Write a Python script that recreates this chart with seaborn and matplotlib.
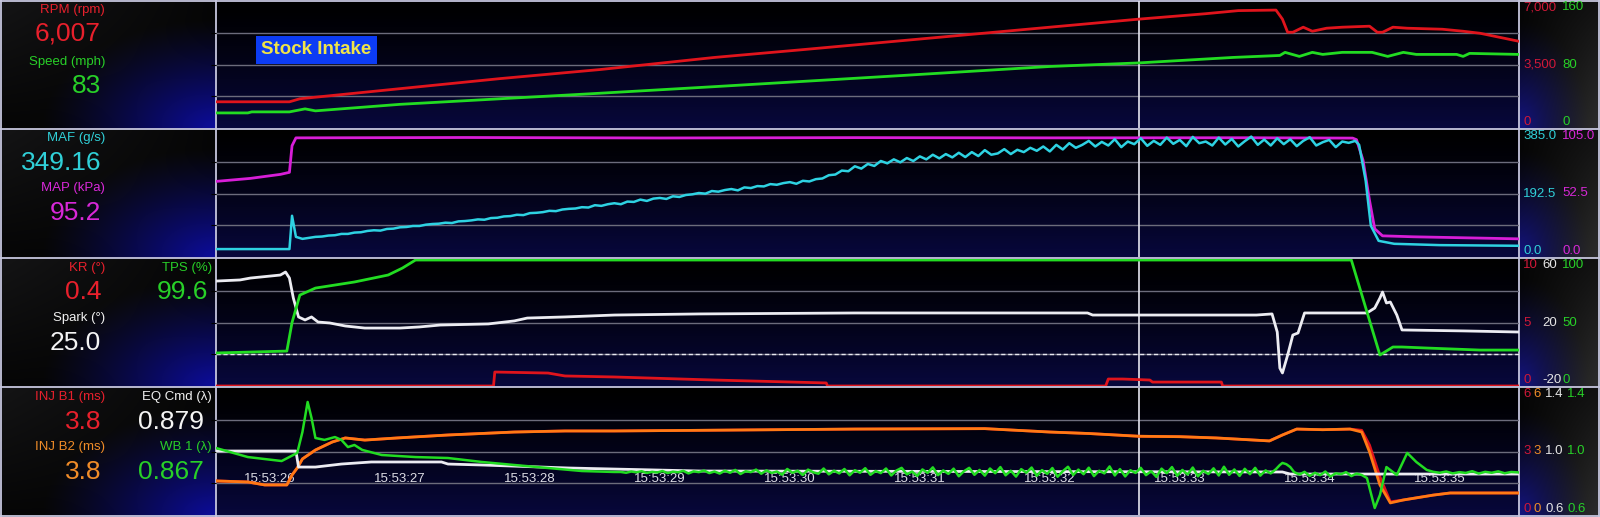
import numpy as np
import matplotlib
matplotlib.use("Agg")
import matplotlib.pyplot as plt
import seaborn as sns

# ---- time base (seconds after 15:53:00) ----
X_MIN, X_MAX = 25.585, 35.61
CURSOR_T = 32.685
tick_secs = [26, 27, 28, 29, 30, 31, 32, 33, 34, 35]
tick_labels = ["15:53:%d" % s for s in tick_secs]

# ---- panel 1: RPM / Speed ----
rpm_t = [25.585, 26.15, 26.23, 27.0, 27.77, 28.54, 29.42, 30.08, 30.85, 32.0, 32.685, 33.2, 33.45,
         33.74, 33.79, 33.83, 33.87, 33.95, 34.02, 34.13, 34.25, 34.46, 34.52, 34.56, 34.64, 34.75,
         35.02, 35.18, 35.31, 35.61]
rpm = [1444, 1444, 1611, 2167, 2722, 3222, 3889, 4306, 4806, 5556, 6000, 6300, 6470,
       6500, 6000, 5278, 5278, 5556, 5333, 5500, 5556, 5611, 5278, 5278, 5556, 5500,
       5444, 5333, 5222, 4778]

speed_t = [25.585, 25.83, 25.86, 26.15, 26.27, 26.35, 27.0, 27.77, 28.54, 29.42, 30.85, 32.0, 32.685,
           33.41, 33.77, 33.81, 33.92, 34.02, 34.10, 34.25, 34.48, 34.60, 34.72, 34.82, 35.13, 35.18,
           35.23, 35.61]
speed = [19.0, 19.0, 20.3, 20.3, 24.1, 21.6, 29.8, 36.8, 43.8, 52.1, 66.0, 77.5, 82.0,
         88.9, 91.4, 95.3, 90.2, 95.3, 92.7, 95.3, 95.3, 90.2, 95.3, 92.7, 92.7, 90.2,
         94.0, 92.7]

# ---- panel 2: MAF / MAP ----
maf_head_t = [25.585, 26.15, 26.17, 26.20, 26.25]
maf_head = [24, 24, 125, 61, 55]
MAF_NOISE_START, MAF_DT = 26.30, 0.05
maf_noise = [58, 61, 62, 65, 66, 70, 70, 74, 75, 79,
             81, 80, 85, 86, 90, 91, 94, 94, 98, 100,
             101, 104, 103, 108, 109, 111, 114, 113, 118, 119,
             123, 124, 128, 127, 133, 134, 136, 140, 139, 144,
             146, 147, 151, 150, 157, 155, 160, 163, 160, 168,
             167, 174, 170, 177, 179, 176, 184, 182, 188, 190,
             194, 192, 200, 198, 203, 206, 202, 211, 209, 215,
             214, 221, 219, 224, 227, 222, 231, 229, 236, 238,
             248, 250, 262, 260, 275, 268, 282, 276, 291, 284,
             296, 287, 300, 291, 305, 296, 310, 299, 312, 302,
             316, 303, 318, 306, 324, 310, 314, 327, 312, 325,
             318, 331, 322, 335, 320, 340, 326, 345, 331, 340,
             352, 335, 349, 338, 357, 333, 350, 342, 360, 337,
             352, 340, 362, 343, 355, 336, 364, 345, 350, 338,
             362, 341, 358, 335, 351, 365, 340, 356, 338, 360,
             342, 357, 336, 352, 363, 338, 348, 355, 333, 350,
             346, 352]
maf_tail_t = [34.38, 34.43, 34.47, 34.53, 34.65, 35.0, 35.61]
maf_tail = [340, 232, 95, 49, 40, 36, 34]

map_t = [25.585, 25.85, 26.08, 26.15, 26.17, 26.20, 27.5, 29.0, 30.5, 32.0, 33.5, 34.33, 34.36,
         34.41, 34.46, 34.50, 34.56, 34.80, 35.61]
map_kpa = [62.5, 65.0, 68.3, 70.0, 92.0, 98.5, 98.8, 98.4, 98.7, 98.5, 98.6, 98.3, 97.0,
           80.0, 46.7, 23.3, 17.5, 16.7, 15.0]

# ---- panel 3: KR / Spark / TPS ----
kr_t = [25.585, 27.72, 27.73, 28.14, 28.27, 28.65, 29.42, 30.28, 30.29, 32.43, 32.45, 32.56, 32.77,
        32.79, 33.32, 33.33, 35.61]
kr = [0, 0, 1.1, 1.02, 0.79, 0.71, 0.47, 0.24, 0, 0, 0.55, 0.55, 0.47,
      0.31, 0.31, 0, 0]

spark_t = [25.585, 25.77, 25.85, 26.08, 26.12, 26.15, 26.18, 26.22, 26.27, 26.32, 26.37, 26.46, 26.58,
           26.73, 27.0, 27.15, 27.31, 27.68, 27.88, 27.98, 28.27, 28.65, 29.31, 30.5, 32.29, 32.33,
           33.59, 33.71, 33.75, 33.77, 33.79, 33.83, 33.87, 33.91, 33.96, 34.44, 34.50, 34.54, 34.56,
           34.59, 34.62, 34.67, 34.71, 35.18, 35.61]
spark = [46.1, 46.8, 48.0, 49.9, 51.8, 48.0, 35.4, 23.5, 21.6, 23.5, 20.3, 19.7, 17.8,
         16.5, 16.5, 17.2, 18.4, 19.1, 21.0, 22.8, 23.5, 24.7, 25.4, 26.0, 26.0, 24.7,
         24.7, 25.4, 14.0, -8.7, -11.8, -0.5, 12.1, 13.4, 26.0, 26.0, 29.1, 35.4, 39.2,
         32.3, 32.9, 24.7, 15.3, 14.7, 14.0]

tps_t = [25.585, 26.13, 26.17, 26.23, 26.35, 26.65, 26.91, 27.02, 27.12, 34.32, 34.54, 34.64, 34.71,
         34.90, 35.31, 35.61]
tps = [26.0, 27.5, 50.0, 71.6, 77.1, 81.9, 87.4, 92.9, 99.2, 99.2, 24.4, 30.7, 30.7,
       29.9, 28.3, 28.3]

# ---- panel 4: injectors / lambda ----
inj_t = [25.585, 25.83, 25.96, 26.13, 26.17, 26.21, 26.25, 26.35, 26.48, 26.58, 26.73, 26.98, 27.37,
         27.88, 28.27, 28.65, 29.5, 30.5, 31.5, 32.0, 32.3, 32.685, 33.0, 33.28, 33.69, 33.79,
         33.90, 34.1, 34.31, 34.40, 34.46, 34.54, 34.62, 34.72, 34.95, 35.08, 35.61]
inj_b2 = [1.61, 1.56, 1.42, 1.42, 1.89, 2.22, 2.65, 3.07, 3.45, 3.64, 3.54, 3.64, 3.78,
          3.92, 3.97, 3.97, 4.01, 4.06, 4.08, 3.92, 3.85, 3.72, 3.70, 3.64, 3.50, 3.78,
          4.06, 4.03, 4.06, 3.92, 2.98, 1.42, 0.57, 0.71, 0.94, 1.04, 1.04]
inj_b1 = [1.61, 1.56, 1.42, 1.42, 1.89, 2.22, 2.65, 3.07, 3.45, 3.64, 3.54, 3.64, 3.78,
          3.92, 3.97, 3.97, 4.01, 4.06, 4.08, 3.92, 3.85, 3.72, 3.70, 3.64, 3.50, 3.78,
          4.06, 4.03, 4.06, 4.00, 3.30, 1.80, 0.62, 0.71, 0.94, 1.04, 1.04]

eq_t = [25.585, 26.20, 26.22, 26.35, 26.55, 26.78, 27.32, 27.37, 27.63, 28.30, 29.31, 33.79, 33.85, 35.61]
eq_cmd = [1.003, 1.003, 0.902, 0.902, 0.921, 0.934, 0.934, 0.921, 0.915, 0.896, 0.877, 0.871, 0.858, 0.858]

wb1_head_t = [25.585, 25.83, 26.09, 26.21, 26.25, 26.29, 26.32, 26.35, 26.42, 26.50, 26.55, 26.60,
              26.65, 26.71, 26.86, 27.12, 27.37, 27.63, 27.88, 28.14, 28.40, 28.65]
wb1_head = [1.022, 0.965, 0.940, 0.991, 1.123, 1.312, 1.211, 1.085, 1.073, 1.091, 1.073, 1.028,
            1.041, 1.010, 0.978, 0.965, 0.959, 0.934, 0.915, 0.896, 0.877, 0.871]
WB1_DT = 0.04
WB1_NOISE_START = 28.70
wb1_noise = [0.871, 0.866, 0.874, 0.869, 0.876, 0.865, 0.872, 0.868, 0.877, 0.864,
             0.873, 0.869, 0.878, 0.862, 0.875, 0.870, 0.880, 0.864, 0.874, 0.861,
             0.879, 0.866, 0.884, 0.858, 0.876, 0.870, 0.886, 0.860, 0.881, 0.865,
             0.874, 0.854, 0.890, 0.866, 0.879, 0.852, 0.886, 0.869, 0.860, 0.893,
             0.856, 0.879, 0.862, 0.890, 0.850, 0.882, 0.866, 0.895, 0.853, 0.877,
             0.864, 0.893, 0.849, 0.880, 0.897, 0.856, 0.874, 0.846, 0.887, 0.865,
             0.900, 0.851, 0.881, 0.859, 0.892, 0.844, 0.876, 0.897, 0.853, 0.884,
             0.848, 0.893, 0.863, 0.902, 0.850, 0.879, 0.842, 0.889, 0.866, 0.899,
             0.847, 0.883, 0.859, 0.896, 0.841, 0.876, 0.904, 0.852, 0.886, 0.857,
             0.898, 0.845, 0.879, 0.862, 0.906, 0.849, 0.889, 0.843, 0.882, 0.865,
             0.897, 0.851, 0.876, 0.840, 0.892, 0.863, 0.902, 0.847, 0.884, 0.855,
             0.899, 0.844, 0.879, 0.858, 0.894, 0.849, 0.904, 0.853, 0.887, 0.846,
             0.891, 0.857, 0.897, 0.848, 0.881, 0.862, 0.889]
wb1_bump_t = [33.77, 33.79, 33.82, 33.85, 33.88]
wb1_bump = [0.915, 0.928, 0.920, 0.902, 0.870]
WB1_NOISE2_START = 33.92
wb1_noise2 = [0.855, 0.872, 0.846, 0.866, 0.851, 0.874, 0.842, 0.863, 0.857, 0.870, 0.845, 0.861, 0.852]
wb1_tail_t = [34.44, 34.50, 34.54, 34.59, 34.67, 34.75, 34.82, 34.90, 34.95, 35.0, 35.05, 35.1, 35.15,
              35.2, 35.25, 35.3, 35.35, 35.4, 35.45, 35.5, 35.55, 35.61]
wb1_tail = [0.833, 0.644, 0.726, 0.902, 0.852, 0.991, 0.934, 0.884, 0.872, 0.866, 0.874, 0.862, 0.870,
            0.865, 0.876, 0.861, 0.872, 0.866, 0.875, 0.863, 0.871, 0.868]

# ---- colours ----
RED = "#e0141c"
GREEN = "#22dc22"
CYAN = "#2ed2e2"
MAGENTA = "#d81ed8"
WHITE = "#ececf2"
ORANGE = "#ff7a14"
LBL_RED = "#e8202c"
LBL_GREEN = "#28d028"
LBL_CYAN = "#30d0d8"
LBL_MAG = "#d828d8"
LBL_ORANGE = "#f08c28"

plt.rcParams["font.family"] = ["Liberation Sans", "DejaVu Sans"]

W, H = 1600, 517
PLOT_L, PLOT_R = 216, 1519
ROWS = [(1, 128), (130, 257), (259, 386), (388, 515)]
BOUNDS = [0, 128.5, 257.5, 386.5, 517]

fig = plt.figure(figsize=(16, 5.17), dpi=100, facecolor="black")

# ---- background (gradients / glows) ----
yy, xx = np.mgrid[0:H, 0:W].astype(float)
bg = np.zeros((H, W, 3))
for i in range(4):
    top, bot = BOUNDS[i], BOUNDS[i + 1]
    band = (yy >= top) & (yy < bot)
    v = np.clip((yy - top) / (bot - top), 0, 1)
    # plot area: black -> navy downward
    m = band & (xx >= PLOT_L) & (xx < PLOT_R)
    navy = np.array([0.03, 0.03, 0.24])
    bg[m] = (v[m] ** 1.3)[:, None] * navy
    # left label area: dark with blue glow at bottom-right
    m = band & (xx < PLOT_L)
    d = np.sqrt(((PLOT_L - xx) / 175.0) ** 2 + ((bot - yy) / 110.0) ** 2)
    g = np.clip(1 - d, 0, 1) ** 1.2
    base = 0.02 + 0.06 * (1 - xx / PLOT_L) * (1 - v)
    col = base[..., None] * np.array([1, 1, 1.05]) * (1 - g[..., None]) + g[..., None] * np.array([0.05, 0.05, 0.62])
    bg[m] = col[m]
    # right axis area: blue glow at bottom-left, grey to the right
    m = band & (xx >= PLOT_R)
    d = np.sqrt(((xx - PLOT_R) / 70.0) ** 2 + ((bot - yy) / 110.0) ** 2)
    g = np.clip(1 - d, 0, 1) ** 1.3
    s = (xx - PLOT_R) / (W - PLOT_R)
    base = 0.02 + 0.16 * s * (0.3 + 0.7 * v)
    col = base[..., None] * (1 - g[..., None]) + g[..., None] * np.array([0.08, 0.08, 0.52])
    bg[m] = col[m]

bg_ax = fig.add_axes([0, 0, 1, 1])
bg_ax.imshow(np.clip(bg, 0, 1), aspect="auto", extent=(0, W, H, 0), interpolation="bilinear")
bg_ax.set_xlim(0, W)
bg_ax.set_ylim(H, 0)
bg_ax.axis("off")
SEP = "#c6c6de"
for yb in [0.8, 128.5, 257.5, 386.5, 516.2]:
    bg_ax.axhline(yb, color=SEP, lw=1.3)
for xb in [0.8, PLOT_L, PLOT_R, 1599.2]:
    bg_ax.axvline(xb, color=SEP, lw=1.3)


def make_panel(row):
    top, bot = ROWS[row]
    ax = fig.add_axes([PLOT_L / W, 1 - bot / H, (PLOT_R - PLOT_L) / W, (bot - top) / H])
    ax.set_facecolor("none")
    ax.set_xlim(X_MIN, X_MAX)
    ax.set_ylim(0, 1)
    ax.set_yticks([0.25, 0.5, 0.75])
    ax.grid(axis="y", color="#6c6c7c", lw=1.0)
    ax.grid(axis="x", visible=False)
    ax.tick_params(left=False, bottom=False, labelleft=False, labelbottom=False)
    for sp in ax.spines.values():
        sp.set_visible(False)
    ax.axvline(CURSOR_T, color="#e6e6f0", lw=1.2, zorder=5)
    return ax


def add_series(ax, t, v, lo, hi, color, labels, pad_px, label_color, lw=2.0):
    tw = ax.twinx()
    sns.lineplot(x=t, y=v, ax=tw, color=color, linewidth=lw, estimator=None, sort=False)
    tw.set_xlim(X_MIN, X_MAX)
    tw.set_ylim(lo, hi)
    tw.set_yticks([lo, (lo + hi) / 2, hi])
    tw.set_yticklabels(labels)
    tw.tick_params(axis="y", length=0, pad=pad_px * 0.72, labelsize=9.5, labelcolor=label_color)
    for lab, va in zip(tw.get_yticklabels(), ["bottom", "center", "top"]):
        lab.set_va(va)
    for sp in tw.spines.values():
        sp.set_visible(False)
    tw.set_ylabel("")
    tw.grid(False)
    return tw


# panel 1
ax1 = make_panel(0)
add_series(ax1, speed_t, speed, 0, 160, GREEN, ["0", "80", "160"], 43, LBL_GREEN)
tw1 = add_series(ax1, rpm_t, rpm, 0, 7000, RED, ["0", "3,500", "7,000"], 4, "#d01838")
tw1.text(0.0771, 0.615, "Stock Intake", transform=ax1.transAxes, ha="center", va="center",
         fontsize=13.5, fontweight="bold", color="#f0e448",
         bbox=dict(boxstyle="square,pad=0.28", fc="#0c3cf4", ec="none"))

# panel 2
ax2 = make_panel(1)
add_series(ax2, map_t, map_kpa, 0, 105, MAGENTA, ["0.0", "52.5", "105.0"], 43, LBL_MAG)
maf_t = list(maf_head_t) + list(MAF_NOISE_START + MAF_DT * np.arange(len(maf_noise))) + list(maf_tail_t)
maf = list(maf_head) + list(maf_noise) + list(maf_tail)
add_series(ax2, maf_t, maf, 0, 385, CYAN, ["0.0", "192.5", "385.0"], 4, LBL_CYAN, lw=1.8)

# panel 3
ax3 = make_panel(2)
add_series(ax3, kr_t, kr, 0, 10, RED, ["0", "5", "10"], 4, "#d01838")
tw_sp = add_series(ax3, spark_t, spark, -20, 60, WHITE, ["-20", "20", "60"], 23, "#e6e6e6")
tw_sp.axhline(0, color="#e8e8f0", lw=1.0, ls=(0, (3, 2)))
add_series(ax3, tps_t, tps, 0, 100, GREEN, ["0", "50", "100"], 43, LBL_GREEN)

# panel 4
ax4 = make_panel(3)
add_series(ax4, inj_t, inj_b1, 0, 6, RED, ["0", "3", "6"], 4, "#d01838")
add_series(ax4, inj_t, inj_b2, 0, 6, ORANGE, ["0", "3", "6"], 14, LBL_ORANGE)
add_series(ax4, eq_t, eq_cmd, 0.6, 1.4, WHITE, ["0.6", "1.0", "1.4"], 26, "#e6e6e6")
wb1_t = (list(wb1_head_t) + list(WB1_NOISE_START + WB1_DT * np.arange(len(wb1_noise))) + list(wb1_bump_t)
         + list(WB1_NOISE2_START + WB1_DT * np.arange(len(wb1_noise2))) + list(wb1_tail_t))
wb1 = list(wb1_head) + list(wb1_noise) + list(wb1_bump) + list(wb1_noise2) + list(wb1_tail)
add_series(ax4, wb1_t, wb1, 0.6, 1.4, GREEN, ["0.6", "1.0", "1.4"], 48, LBL_GREEN, lw=1.8)
ax4.set_xticks(tick_secs)
ax4.set_xticklabels(tick_labels)
ax4.tick_params(axis="x", bottom=False, labelbottom=True, length=0, pad=-30, labelsize=9.5,
                labelcolor="#dcdce4")

# ---- left readouts ----
readouts = [
    ("RPM (rpm)", 105, 10, LBL_RED, 9.5), ("6,007", 101, 33, LBL_RED, 19),
    ("Speed (mph)", 105, 62, LBL_GREEN, 9.5), ("83", 101, 86, LBL_GREEN, 19),
    ("MAF (g/s)", 105, 138, LBL_CYAN, 9.5), ("349.16", 101, 163, LBL_CYAN, 19),
    ("MAP (kPa)", 105, 188, LBL_MAG, 9.5), ("95.2", 101, 213, LBL_MAG, 19),
    ("KR (°)", 105, 268, LBL_RED, 9.5), ("0.4", 101, 292, LBL_RED, 19),
    ("TPS (%)", 212, 268, LBL_GREEN, 9.5), ("99.6", 208, 292, LBL_GREEN, 19),
    ("Spark (°)", 105, 318, "#f0f0f0", 9.5), ("25.0", 101, 343, "#f4f4f4", 19),
    ("INJ B1 (ms)", 105, 397, LBL_RED, 9.5), ("3.8", 101, 422, LBL_RED, 19),
    ("EQ Cmd (λ)", 212, 397, "#f0f0f0", 9.5), ("0.879", 204, 422, "#f4f4f4", 19),
    ("INJ B2 (ms)", 105, 447, LBL_ORANGE, 9.5), ("3.8", 101, 472, LBL_ORANGE, 19),
    ("WB 1 (λ)", 212, 447, LBL_GREEN, 9.5), ("0.867", 204, 472, LBL_GREEN, 19),
]
for txt, x, y, c, fs in readouts:
    fig.text(x / W, 1 - y / H, txt, ha="right", va="center", color=c, fontsize=fs)

fig.savefig("out.png", dpi=100, facecolor="black")
plt.close(fig)
